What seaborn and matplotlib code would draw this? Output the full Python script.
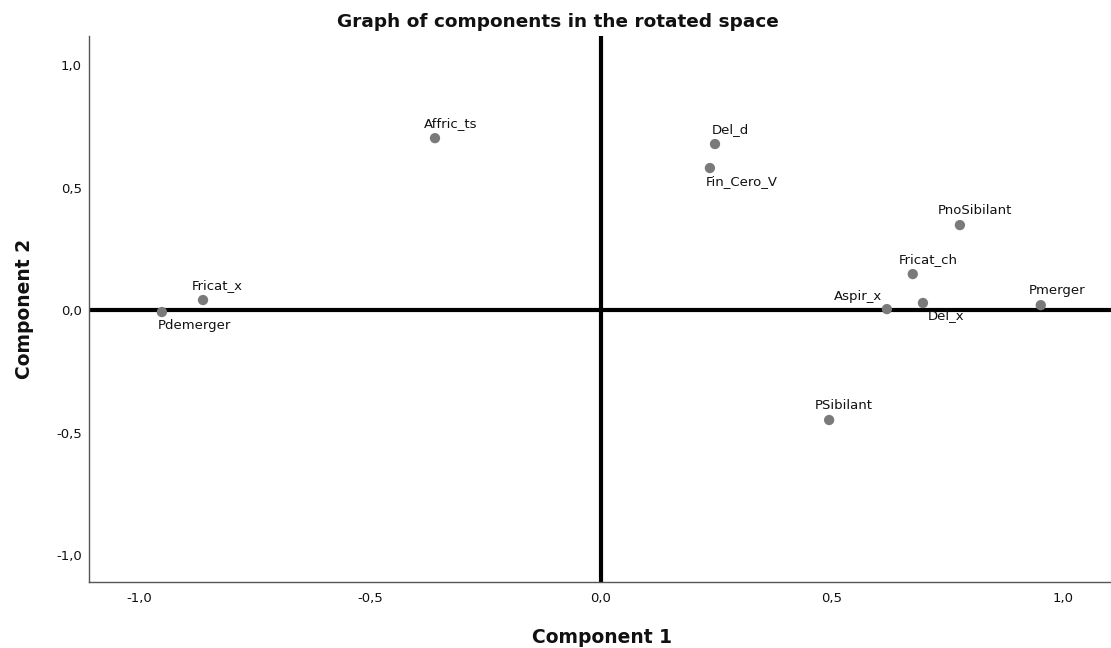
import numpy as np
import pandas as pd
import matplotlib
matplotlib.use("Agg")
import matplotlib.pyplot as plt
import seaborn as sns

# * datos (cargas rotadas)
variables = ["Fricat_x", "Pdemerger", "Affric_ts", "Del_d", "Fin_Cero_V",
             "PnoSibilant", "Fricat_ch", "Aspir_x", "Del_x", "Pmerger", "PSibilant"]
comp1 = [-0.861, -0.950, -0.359, 0.247, 0.236, 0.777, 0.675, 0.619, 0.697, 0.952, 0.494]
comp2 = [0.041, -0.008, 0.702, 0.678, 0.580, 0.347, 0.147, 0.004, 0.029, 0.020, -0.449]

ticks = [-1.0, -0.5, 0.0, 0.5, 1.0]
tick_labels = ["-1,0", "-0,5", "0,0", "0,5", "1,0"]

df = pd.DataFrame({"variable": variables, "Component 1": comp1, "Component 2": comp2})

# colocacion de etiquetas (offset en pixeles, alineacion)
label_pos = {
    "Fricat_x": (-11, 8, "left", "bottom"),
    "Pdemerger": (-4, -7, "left", "top"),
    "Affric_ts": (-11, 8, "left", "bottom"),
    "Del_d": (-3, 8, "left", "bottom"),
    "Fin_Cero_V": (-4, -7, "left", "top"),
    "PnoSibilant": (-22, 8, "left", "bottom"),
    "Fricat_ch": (-14, 8, "left", "bottom"),
    "Aspir_x": (-5, 6, "right", "bottom"),
    "Del_x": (5, -6, "left", "top"),
    "Pmerger": (-12, 8, "left", "bottom"),
    "PSibilant": (-14, 8, "left", "bottom"),
}

sns.set_style("white")
plt.rcParams["font.family"] = ["DejaVu Sans"]

fig = plt.figure(figsize=(11.11, 6.48), dpi=100)
ax = fig.add_axes([0.080, 0.102, 0.920, 0.842])

ax.axhline(0, color="black", lw=3, zorder=1)
ax.axvline(0, color="black", lw=3, zorder=1)

sns.scatterplot(data=df, x="Component 1", y="Component 2", ax=ax,
                color="#7a7a7a", s=55, edgecolor="none", zorder=3)

for _, row in df.iterrows():
    dx, dy, ha, va = label_pos[row["variable"]]
    ax.annotate(row["variable"], (row["Component 1"], row["Component 2"]),
                xytext=(dx * 0.72, dy * 0.72), textcoords="offset points",
                ha=ha, va=va, fontsize=9.5, color="#111111", zorder=4)

ax.set_xlim(-1.108, 1.104)
ax.set_ylim(-1.11, 1.118)
ax.set_xticks(ticks)
ax.set_xticklabels(tick_labels)
ax.set_yticks(ticks)
ax.set_yticklabels(tick_labels)
ax.tick_params(axis="both", length=0, labelsize=9.5, colors="#111111")
ax.tick_params(axis="x", pad=7.5)
ax.tick_params(axis="y", pad=5)

for side in ["top", "right"]:
    ax.spines[side].set_visible(False)
for side in ["left", "bottom"]:
    ax.spines[side].set_color("#555555")
    ax.spines[side].set_linewidth(1)

ax.set_xlabel("Component 1", fontsize=13.5, fontweight="bold", color="#111111",
              va="baseline")
ax.xaxis.set_label_coords(0.502, -0.112)
ax.set_ylabel("Component 2", fontsize=13.5, fontweight="bold", color="#111111")
ax.yaxis.set_label_coords(-0.054, 0.5)

# titulo centrado en la figura completa
fig.text(0.502, 1 - 27 / 648, "Graph of components in the rotated space",
         fontsize=13.3, fontweight="bold", color="#111111",
         ha="center", va="baseline")

fig.savefig("out.png", dpi=100)
